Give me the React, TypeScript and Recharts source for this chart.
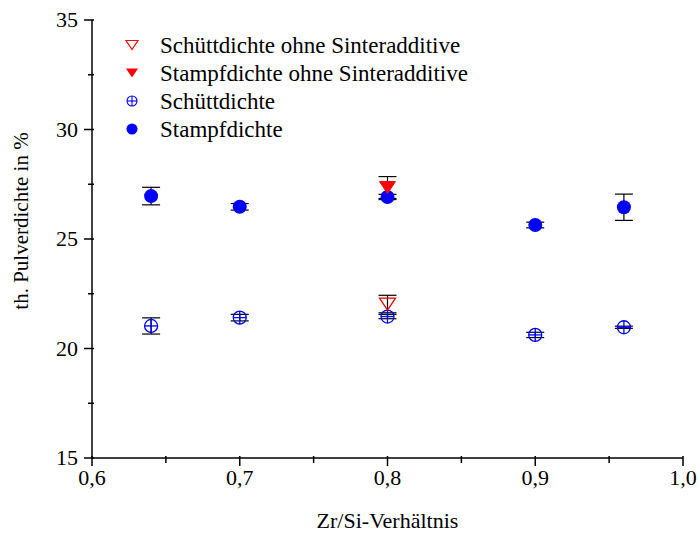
import React from 'react';
import { ScatterChart, Scatter, XAxis, YAxis, ErrorBar, Legend } from 'recharts';

// Zr/Si ratio of the samples with sinter additives
const ratios = [0.64, 0.7, 0.8, 0.9, 0.96];
// Tap density (Stampfdichte) in % of theoretical density
const tapDensity = [26.96, 26.47, 26.92, 25.64, 26.45];
const tapError = [0.4, 0.15, 0.12, 0.13, 0.6];
// Bulk density (Schüttdichte) in % of theoretical density
const bulkDensity = [21.03, 21.41, 21.46, 20.62, 20.97];
const bulkError = [0.37, 0.15, 0.1, 0.12, 0.05];
// Samples without sinter additives
const plainRatios = [0.8];
const plainTap = [27.35];
const plainTapError = [0.5];
const plainBulk = [22.03];
const plainBulkError = [0.4];

const xMajor = [0.6, 0.7, 0.8, 0.9, 1.0];
const xMinor = [0.65, 0.75, 0.85, 0.95];
const yMajor = [15, 20, 25, 30, 35];
const yMinor = [17.5, 22.5, 27.5, 32.5];

const legendLabels = [
  'Schüttdichte ohne Sinteradditive',
  'Stampfdichte ohne Sinteradditive',
  'Schüttdichte',
  'Stampfdichte',
];
const xTitle = 'Zr/Si-Verhältnis';
const yTitle = 'th. Pulverdichte in %';

const FONT = '"Liberation Serif", "Times New Roman", serif';
const BLUE = '#0000ff';
const RED = '#ff0000';

const rows = (xs: number[], ys: number[], es: number[]) =>
  xs.map((x, i) => ({ x, y: ys[i], err: es[i] }));

const tapData = rows(ratios, tapDensity, tapError);
const bulkData = rows(ratios, bulkDensity, bulkError);
const plainTapData = rows(plainRatios, plainTap, plainTapError);
const plainBulkData = rows(plainRatios, plainBulk, plainBulkError);

const isMajor = (list: number[], v: number) => list.some((m) => Math.abs(m - v) < 1e-9);
const sortNum = (a: number[]) => [...a].sort((p, q) => p - q);

// ---- symbols ----
const FilledCircle = (p: any) => <circle cx={p.cx} cy={p.cy} r={7} fill={BLUE} />;
const CrossCircle = (p: any) => {
  const r = 6.5;
  return (
    <g stroke={BLUE} strokeWidth={1.3} fill="none">
      <circle cx={p.cx} cy={p.cy} r={r} />
      <line x1={p.cx - r} x2={p.cx + r} y1={p.cy} y2={p.cy} />
      <line x1={p.cx} x2={p.cx} y1={p.cy - r} y2={p.cy + r} />
    </g>
  );
};
const triPoints = (cx: number, cy: number, w: number, h: number) =>
  `${cx - w / 2},${cy - h / 2} ${cx + w / 2},${cy - h / 2} ${cx},${cy + h / 2}`;
const HollowTriangle = (p: any) => (
  <polygon points={triPoints(p.cx, p.cy, 16, 12)} fill="none" stroke={RED} strokeWidth={1.3} />
);
const FilledTriangle = (p: any) => (
  <polygon points={triPoints(p.cx, p.cy, 16, 12)} fill={RED} stroke={RED} strokeWidth={1} />
);
const NoMark = () => <g />;

// ---- axis ticks ----
const BottomTick = (p: any) => {
  const major = isMajor(xMajor, p.payload.value);
  return (
    <g>
      <line x1={p.x} x2={p.x} y1={p.y - 2} y2={p.y + (major ? 8 : 5)} stroke="#000" strokeWidth={1.5} />
      {major && (
        <text x={p.x} y={p.y + 27} textAnchor="middle" fontFamily={FONT} fontSize={22} fill="#000">
          {p.payload.value.toFixed(1).replace('.', ',')}
        </text>
      )}
    </g>
  );
};
const TopTick = (p: any) => {
  const major = isMajor(xMajor, p.payload.value);
  return <line x1={p.x} x2={p.x} y1={p.y} y2={p.y + (major ? 6 : 4)} stroke="#000" strokeWidth={1.5} />;
};
const LeftTick = (p: any) => {
  const major = isMajor(yMajor, p.payload.value);
  return (
    <g>
      <line x1={p.x + 2} x2={p.x - (major ? 8 : 4)} y1={p.y} y2={p.y} stroke="#000" strokeWidth={1.5} />
      {major && (
        <text x={p.x - 14} y={p.y + 7} textAnchor="end" fontFamily={FONT} fontSize={22} fill="#000">
          {p.payload.value}
        </text>
      )}
    </g>
  );
};
const RightTick = (p: any) => {
  const major = isMajor(yMajor, p.payload.value);
  return <line x1={p.x} x2={p.x - (major ? 6 : 4)} y1={p.y} y2={p.y} stroke="#000" strokeWidth={1.5} />;
};

// ---- legend ----
const legendSymbols = [
  (cx: number, cy: number) => (
    <polygon points={triPoints(cx, cy, 12, 9)} fill="none" stroke={RED} strokeWidth={1.2} />
  ),
  (cx: number, cy: number) => <polygon points={triPoints(cx, cy, 12, 9)} fill={RED} />,
  (cx: number, cy: number) => (
    <g stroke={BLUE} strokeWidth={1.1} fill="none">
      <circle cx={cx} cy={cy} r={5} />
      <line x1={cx - 5} x2={cx + 5} y1={cy} y2={cy} />
      <line x1={cx} x2={cx} y1={cy - 5} y2={cy + 5} />
    </g>
  ),
  (cx: number, cy: number) => <circle cx={cx} cy={cy} r={5.5} fill={BLUE} />,
];

const LegendBox = () => (
  <svg width={400} height={124} style={{ display: 'block' }}>
    {legendLabels.map((label, i) => {
      const cy = 14 + i * 28;
      return (
        <g key={label}>
          {legendSymbols[i](14, cy)}
          <text x={42} y={cy + 8} fontFamily={FONT} fontSize={23} fill="#000">
            {label}
          </text>
        </g>
      );
    })}
  </svg>
);

export default function App() {
  const xTicks = sortNum([...xMajor, ...xMinor]);
  const yTicks = sortNum([...yMajor, ...yMinor]);
  const axisLine = { stroke: '#000', strokeWidth: 1.5 };
  return (
    <div style={{ position: 'absolute', left: 0, top: 0, background: '#fff' }}>
      <ScatterChart width={699} height={534} margin={{ top: 20, right: 16, bottom: 0, left: 0 }}>
        <XAxis
          type="number"
          dataKey="x"
          domain={[0.6, 1.0]}
          allowDataOverflow
          ticks={xTicks}
          interval={0}
          tickSize={0}
          tickMargin={0}
          tickLine={false}
          axisLine={axisLine}
          height={76}
          tick={<BottomTick />}
          label={{
            content: (lp: any) => (
              <text
                x={lp.viewBox.x + lp.viewBox.width / 2}
                y={lp.viewBox.y + 70}
                textAnchor="middle"
                fontFamily={FONT}
                fontSize={22}
                fill="#000"
              >
                {xTitle}
              </text>
            ),
          }}
        />
        <XAxis
          xAxisId="top"
          orientation="top"
          type="number"
          dataKey="x"
          domain={[0.6, 1.0]}
          allowDataOverflow
          ticks={xTicks}
          interval={0}
          tickSize={0}
          tickMargin={0}
          tickLine={false}
          axisLine={axisLine}
          height={0}
          tick={<TopTick />}
        />
        <YAxis
          type="number"
          dataKey="y"
          domain={[15, 35]}
          allowDataOverflow
          ticks={yTicks}
          interval={0}
          tickSize={0}
          tickMargin={0}
          tickLine={false}
          axisLine={axisLine}
          width={92}
          tick={<LeftTick />}
          label={{
            content: (lp: any) => {
              const cx = 28;
              const cy = lp.viewBox.y + lp.viewBox.height / 2 - 18;
              return (
                <text
                  x={cx}
                  y={cy}
                  transform={`rotate(-90 ${cx} ${cy})`}
                  textAnchor="middle"
                  fontFamily={FONT}
                  fontSize={21}
                  fill="#000"
                >
                  {yTitle}
                </text>
              );
            },
          }}
        />
        <YAxis
          yAxisId="right"
          orientation="right"
          type="number"
          dataKey="y"
          domain={[15, 35]}
          allowDataOverflow
          ticks={yTicks}
          interval={0}
          tickSize={0}
          tickMargin={0}
          tickLine={false}
          axisLine={axisLine}
          width={0}
          tick={<RightTick />}
        />
        <Legend
          layout="vertical"
          align="center"
          verticalAlign="middle"
          wrapperStyle={{ position: 'absolute', left: 118, top: 31, width: 400, height: 124 }}
          content={() => <LegendBox />}
        />

        <Scatter name="Stampfdichte" data={tapData} shape={<FilledCircle />} isAnimationActive={false} />
        <Scatter name="Schüttdichte" data={bulkData} shape={<CrossCircle />} isAnimationActive={false} />
        <Scatter
          name="Stampfdichte ohne Sinteradditive"
          data={plainTapData}
          shape={<FilledTriangle />}
          isAnimationActive={false}
        />
        <Scatter
          name="Schüttdichte ohne Sinteradditive"
          data={plainBulkData}
          shape={<HollowTriangle />}
          isAnimationActive={false}
        />

        {/* error bars drawn above all symbols */}
        {[tapData, bulkData, plainTapData, plainBulkData].map((d, i) => (
          <Scatter key={i} data={d} shape={<NoMark />} legendType="none" isAnimationActive={false}>
            <ErrorBar dataKey="err" direction="y" width={9} stroke="#000" strokeWidth={1.2} />
          </Scatter>
        ))}
      </ScatterChart>
    </div>
  );
}
